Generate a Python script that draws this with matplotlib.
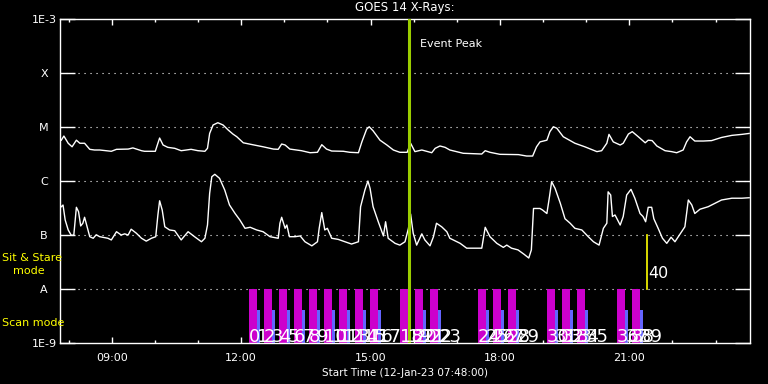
import numpy as np
import matplotlib.pyplot as plt
from matplotlib.ticker import NullLocator

# GOES 14 X-ray flux, time in hours of 12-Jan-23
long_t = [7.83, 7.89, 7.99, 8.08, 8.18, 8.26, 8.37, 8.49, 8.60, 8.72,
          8.99, 9.11, 9.38, 9.49, 9.69, 9.76, 10.01, 10.07, 10.11, 10.19,
          10.30, 10.46, 10.61, 10.73, 10.84, 11.00, 11.16, 11.22, 11.27, 11.35,
          11.46, 11.58, 11.70, 11.81, 11.90, 12.05, 12.21, 12.51, 12.75, 12.86,
          12.94, 13.02, 13.13, 13.40, 13.60, 13.77, 13.87, 13.98, 14.10, 14.37,
          14.52, 14.72, 14.80, 14.91, 14.97, 15.06, 15.22, 15.38, 15.53, 15.68,
          15.85, 15.93, 16.03, 16.19, 16.30, 16.42, 16.50, 16.61, 16.73, 16.84,
          17.15, 17.58, 17.66, 17.77, 18.00, 18.43, 18.62, 18.76, 18.85, 18.93,
          19.09, 19.16, 19.24, 19.32, 19.47, 19.63, 19.74, 19.97, 20.25, 20.36,
          20.48, 20.53, 20.63, 20.79, 20.86, 20.98, 21.07, 21.21, 21.37, 21.44,
          21.53, 21.64, 21.83, 21.98, 22.10, 22.25, 22.33, 22.41, 22.52, 22.72,
          22.91, 23.14, 23.38, 23.61, 23.78]
long_flux = [5.7e-6, 6.8e-6, 5.0e-6, 4.3e-6, 5.7e-6, 5.0e-6, 5.0e-6, 3.86e-6, 3.75e-6, 3.75e-6,
             3.55e-6, 3.86e-6, 3.9e-6, 4.1e-6, 3.64e-6, 3.55e-6, 3.55e-6, 5.0e-6, 6.25e-6, 4.64e-6,
             4.2e-6, 4.03e-6, 3.64e-6, 3.75e-6, 3.86e-6, 3.64e-6, 3.55e-6, 4.03e-6, 7.6e-6, 1.09e-5,
             1.2e-5, 1.09e-5, 8.8e-6, 7.4e-6, 6.6e-6, 5.1e-6, 4.8e-6, 4.3e-6, 3.9e-6, 3.86e-6,
             4.84e-6, 4.64e-6, 3.9e-6, 3.64e-6, 3.34e-6, 3.4e-6, 4.7e-6, 3.9e-6, 3.59e-6, 3.55e-6,
             3.4e-6, 3.34e-6, 5.3e-6, 9.1e-6, 1.01e-5, 8.5e-6, 5.7e-6, 4.64e-6, 3.75e-6, 3.4e-6,
             3.4e-6, 5.0e-6, 3.5e-6, 3.75e-6, 3.55e-6, 3.34e-6, 4.03e-6, 4.45e-6, 4.2e-6, 3.75e-6,
             3.26e-6, 3.16e-6, 3.64e-6, 3.4e-6, 3.12e-6, 3.08e-6, 2.9e-6, 2.9e-6, 4.3e-6, 5.3e-6,
             5.7e-6, 8.2e-6, 1.01e-5, 9.5e-6, 6.6e-6, 5.6e-6, 5.0e-6, 4.3e-6, 3.5e-6, 3.64e-6,
             5.0e-6, 7.3e-6, 5.3e-6, 4.64e-6, 5.0e-6, 7.4e-6, 8.2e-6, 6.6e-6, 5.1e-6, 5.7e-6,
             5.6e-6, 4.45e-6, 3.64e-6, 3.5e-6, 3.34e-6, 3.75e-6, 5.3e-6, 6.6e-6, 5.5e-6, 5.5e-6,
             5.6e-6, 6.4e-6, 7.0e-6, 7.3e-6, 7.6e-6]

short_t = [7.83, 7.87, 7.92, 7.99, 8.06, 8.12, 8.18, 8.23, 8.28, 8.33,
           8.37, 8.43, 8.49, 8.57, 8.64, 8.72, 8.91, 8.99, 9.11, 9.22,
           9.30, 9.38, 9.45, 9.57, 9.69, 9.80, 9.92, 10.02, 10.07, 10.11,
           10.17, 10.23, 10.34, 10.46, 10.61, 10.77, 10.92, 11.08, 11.16, 11.22,
           11.27, 11.32, 11.39, 11.50, 11.62, 11.73, 11.86, 11.97, 12.09, 12.21,
           12.36, 12.51, 12.67, 12.86, 12.90, 12.94, 13.02, 13.06, 13.12, 13.25,
           13.37, 13.48, 13.64, 13.77, 13.81, 13.87, 13.94, 14.00, 14.10, 14.25,
           14.41, 14.56, 14.72, 14.77, 14.87, 14.94, 14.99, 15.06, 15.18, 15.30,
           15.35, 15.41, 15.57, 15.68, 15.80, 15.88, 15.93, 15.99, 16.07, 16.19,
           16.26, 16.38, 16.46, 16.53, 16.65, 16.77, 16.84, 17.08, 17.23, 17.46,
           17.58, 17.66, 17.77, 17.93, 18.08, 18.16, 18.27, 18.42, 18.56, 18.67,
           18.73, 18.78, 18.93, 18.99, 19.09, 19.15, 19.20, 19.28, 19.40, 19.51,
           19.63, 19.74, 19.90, 20.05, 20.17, 20.30, 20.40, 20.48, 20.51, 20.57,
           20.61, 20.67, 20.79, 20.86, 20.94, 21.04, 21.13, 21.25, 21.32, 21.38,
           21.44, 21.52, 21.57, 21.67, 21.77, 21.87, 21.97, 22.06, 22.18, 22.29,
           22.37, 22.45, 22.52, 22.64, 22.83, 23.14, 23.38, 23.61, 23.78]
short_flux = [3.34e-7, 3.59e-7, 1.9e-7, 1.24e-7, 9.9e-8, 9.9e-8, 3.26e-7, 2.7e-7, 1.47e-7, 1.65e-7,
              2.13e-7, 1.42e-7, 9.3e-8, 8.7e-8, 1.01e-7, 9.3e-8, 8.7e-8, 8.1e-8, 1.15e-7, 1.0e-7,
              1.05e-7, 1.0e-7, 1.28e-7, 1.08e-7, 8.7e-8, 7.7e-8, 8.7e-8, 9.3e-8, 2.35e-7, 4.3e-7,
              2.9e-7, 1.42e-7, 1.24e-7, 1.2e-7, 8.1e-8, 1.15e-7, 9.3e-8, 7.5e-8, 8.7e-8, 1.53e-7,
              5.9e-7, 1.2e-6, 1.33e-6, 1.12e-6, 6.8e-7, 3.6e-7, 2.5e-7, 1.9e-7, 1.33e-7, 1.39e-7,
              1.24e-7, 1.15e-7, 9.3e-8, 8.7e-8, 1.65e-7, 2.13e-7, 1.33e-7, 1.53e-7, 9.3e-8, 9.3e-8,
              9.6e-8, 7.5e-8, 6.3e-8, 7.5e-8, 1.33e-7, 2.6e-7, 1.24e-7, 1.33e-7, 8.7e-8, 8.3e-8,
              7.5e-8, 6.8e-8, 7.5e-8, 3.34e-7, 6.8e-7, 1.0e-6, 7.3e-7, 3.34e-7, 1.76e-7, 9.6e-8,
              1.76e-7, 8.7e-8, 7.0e-8, 6.5e-8, 7.5e-8, 1.33e-7, 2.45e-7, 1.08e-7, 6.5e-8, 1.05e-7,
              8.1e-8, 6.3e-8, 9.3e-8, 1.65e-7, 1.42e-7, 1.15e-7, 8.7e-8, 7.0e-8, 5.7e-8, 5.7e-8,
              5.7e-8, 1.39e-7, 9.3e-8, 7.0e-8, 5.9e-8, 6.5e-8, 5.7e-8, 5.3e-8, 4.4e-8, 3.75e-8,
              5.3e-8, 3.1e-7, 3.1e-7, 2.9e-7, 2.5e-7, 5.1e-7, 9.7e-7, 7.3e-7, 3.9e-7, 2.0e-7,
              1.65e-7, 1.33e-7, 1.24e-7, 9.3e-8, 7.5e-8, 6.5e-8, 1.33e-7, 1.65e-7, 6.3e-7, 5.5e-7,
              2.2e-7, 2.35e-7, 1.53e-7, 2.2e-7, 5.5e-7, 7.0e-7, 4.8e-7, 2.5e-7, 2.2e-7, 1.76e-7,
              3.26e-7, 3.26e-7, 2.0e-7, 1.33e-7, 8.7e-8, 7.0e-8, 9.1e-8, 7.5e-8, 1.05e-7, 1.42e-7,
              4.45e-7, 3.6e-7, 2.5e-7, 3.0e-7, 3.34e-7, 4.45e-7, 4.8e-7, 4.8e-7, 4.9e-7]

# scan mode rasters (start hour), two scans per raster
scan_start = [12.18, 12.53, 12.88, 13.23, 13.57, 13.92, 14.27, 14.64, 14.99, 15.68,
              16.03, 16.38, 17.49, 17.84, 18.19, 19.09, 19.44, 19.79, 20.72, 21.06]
scan_dur = 0.19
sub_dur = 0.07

stare_t = 21.41
stare_id = '40'
peak_t = 15.89

levels = [1e-9, 1e-8, 1e-7, 1e-6, 1e-5, 1e-4, 1e-3]
level_names = ['1E-9', 'A', 'B', 'C', 'M', 'X', '1E-3']
hour_ticks = [9, 12, 15, 18, 21]
hour_labels = ['09:00', '12:00', '15:00', '18:00', '21:00']

fig = plt.figure(figsize=(7.68, 3.84), dpi=100, facecolor='black')
ax = fig.add_axes([60/768, 41/384, 690/768, 324/384], facecolor='black')
ax.set_yscale('log')
ax.set_xlim(7.8, 23.8)
ax.set_ylim(1e-9, 1e-3)

for lev in levels[1:-1]:
    ax.axhline(lev, color='white', lw=0.8, ls=(0, (1, 4.4)))

ax.bar(scan_start, 1e-8 - 1e-9, width=scan_dur, bottom=1e-9, align='edge',
       color='#cc00cc', zorder=2)
ax.bar(np.array(scan_start) + scan_dur, 4e-9 - 1e-9, width=sub_dur, bottom=1e-9,
       align='edge', color='#6464ff', zorder=2)
for k, t in enumerate(scan_start):
    ax.text(t, 1.05e-9, str(2*k), color='white', fontsize=13, va='baseline',
            family=['Liberation Sans Narrow', 'DejaVu Sans'], zorder=4)
    ax.text(t + scan_dur, 1.05e-9, str(2*k + 1), color='white', fontsize=13,
            va='baseline', family=['Liberation Sans Narrow', 'DejaVu Sans'], zorder=4)

ax.plot(long_t, long_flux, color='white', lw=1, zorder=3)
ax.plot(short_t, short_flux, color='white', lw=1, zorder=3)

ax.axvline(peak_t, color='#9acd00', lw=2.2, zorder=3)
ax.text(peak_t + 0.26, 3.4e-4, 'Event Peak', color='white', fontsize=8, va='center')

ax.plot([stare_t, stare_t], [1e-8, 1e-7], color='yellow', lw=1.2, zorder=3)
ax.text(stare_t + 0.02, 1.58e-8, stare_id, color='white', fontsize=11.5, va='baseline')

ax.set_yticks(levels, level_names)
ax.yaxis.set_minor_locator(NullLocator())
ax.tick_params(axis='y', which='major', direction='in', length=10.8, width=1,
               colors='white', left=True, right=True, labelsize=8, pad=11.5)
for lab in ax.get_yticklabels():
    lab.set_ha('center')

ax.set_xticks(hour_ticks, hour_labels)
ax.set_xticks(range(8, 24), minor=True)
ax.tick_params(axis='x', which='major', direction='in', length=4.5, width=1,
               colors='white', top=True, bottom=True, labelsize=8, pad=7)
ax.tick_params(axis='x', which='minor', direction='in', length=2.2, width=1,
               colors='white', top=True, bottom=True)
for sp in ax.spines.values():
    sp.set_color('white')
    sp.set_linewidth(1)

ax.set_xlabel('Start Time (12-Jan-23 07:48:00)', color='white', fontsize=7.5, labelpad=4)
fig.text(405/768, 1 - 8/384, 'GOES 14 X-Rays:', color='white', fontsize=8.5,
         ha='center', va='center')
fig.text(2/768, 1 - 258/384, 'Sit & Stare', color='yellow', fontsize=8, va='center')
fig.text(13/768, 1 - 271/384, 'mode', color='yellow', fontsize=8, va='center')
fig.text(2/768, 1 - 323/384, 'Scan mode', color='yellow', fontsize=8, va='center')

fig.savefig('out.png', dpi=100, facecolor='black')
